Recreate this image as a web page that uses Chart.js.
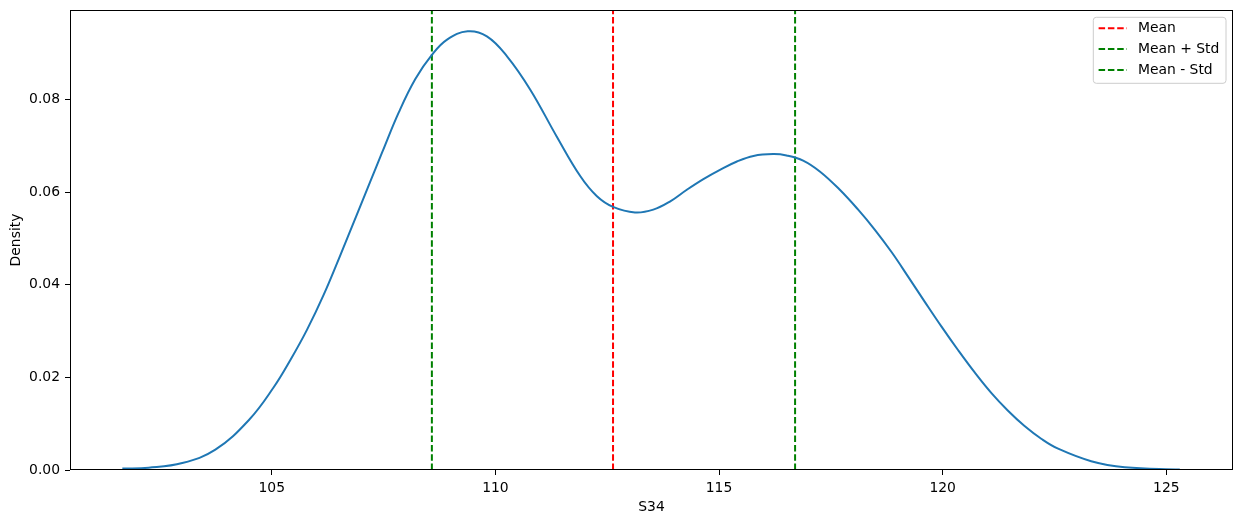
<!DOCTYPE html>
<html lang="en">

<head>
    <meta charset="UTF-8">
    <title>S34 density</title>
    <style>
        body { margin: 0; background: #fff; }
        #wrap { width: 1242px; height: 525px; }
    </style>
</head>

<body>
    <div id="wrap">
        <canvas id="myChart"></canvas>
    </div>

    <script src="https://cdn.jsdelivr.net/npm/chart.js"></script>
    <script>
        // kde curve
        const kdeX = [101.66, 102.25, 103.00, 103.74, 104.49, 105.04, 105.42, 105.79, 106.16, 106.53,
            106.91, 107.20, 107.47, 107.84, 108.21, 108.58, 108.92, 109.38, 109.81, 110.26,
            110.78, 111.37, 111.90, 112.27, 112.63, 113.12, 113.53, 113.91, 114.28, 114.65,
            115.02, 115.40, 115.77, 116.21, 116.51, 116.88, 117.26, 117.70, 118.11, 118.48,
            118.86, 119.23, 119.60, 119.97, 120.35, 120.72, 121.09, 121.46, 121.83, 122.21,
            122.58, 123.32, 124.07, 125.30];
        const kdeDensity = [0.0003, 0.0005, 0.0015, 0.0044, 0.0108, 0.0178, 0.0238, 0.0303, 0.0378, 0.0463,
            0.0553, 0.0622, 0.0686, 0.0772, 0.0844, 0.0896, 0.0929, 0.0947, 0.0936, 0.0893,
            0.0821, 0.0720, 0.0634, 0.0591, 0.0568, 0.0556, 0.0562, 0.0580, 0.0605, 0.0628,
            0.0648, 0.0666, 0.0678, 0.0682, 0.0679, 0.0668, 0.0644, 0.0605, 0.0562, 0.0519,
            0.0470, 0.0417, 0.0363, 0.0310, 0.0258, 0.0210, 0.0166, 0.0128, 0.0095, 0.0067,
            0.0046, 0.0019, 0.0006, 0.0001];

        const markerLabels = ['Mean', 'Mean + Std', 'Mean - Std'];
        const markerValues = [112.63, 116.70, 108.58];
        const markerColors = ['#ff0000', '#008000', '#008000'];

        const xTicks = [105, 110, 115, 120, 125];
        const yTicks = [0, 0.02, 0.04, 0.06, 0.08];
        const xRange = [100.49, 126.49];
        const yRange = [0, 0.0993];

        const FONT = { family: 'DejaVu Sans', size: 13.9 };
        const DASH = [6.5, 2.8];

        var datasets = [{
            label: 'kde',
            data: kdeX.map(function (x, i) { return { x: x, y: kdeDensity[i] }; }),
            borderColor: '#1f77b4',
            borderWidth: 2,
            pointRadius: 0,
            tension: 0.4,
            fill: false
        }];
        markerLabels.forEach(function (lab, i) {
            datasets.push({
                label: lab,
                data: [{ x: markerValues[i], y: yRange[0] }, { x: markerValues[i], y: yRange[1] }],
                borderColor: markerColors[i],
                borderWidth: 2,
                borderDash: DASH,
                pointRadius: 0,
                fill: false
            });
        });

        // matplotlib style box around the plot + legend in the upper right
        const framePlugin = {
            id: 'frame',
            afterDatasetsDraw: function (chart) {
                const ctx = chart.ctx;
                const a = chart.chartArea;
                ctx.save();
                ctx.strokeStyle = '#000';
                ctx.lineWidth = 1;
                ctx.strokeRect(Math.round(a.left) + 0.5, Math.round(a.top) + 0.5,
                    Math.round(a.right - a.left) - 1, Math.round(a.bottom - a.top) - 1);

                // legend
                const items = chart.data.datasets.slice(1);
                ctx.font = FONT.size + 'px ' + FONT.family;
                let tw = 0;
                items.forEach(function (d) { tw = Math.max(tw, ctx.measureText(d.label).width); });
                const rowH = 20.8;
                const w = 5.3 + 28.3 + 11 + tw + 6.7;
                const h = 66;
                const x0 = a.right - 7 - w;
                const y0 = a.top + 7.3;
                const r = 3;
                ctx.beginPath();
                ctx.moveTo(x0 + r, y0);
                ctx.arcTo(x0 + w, y0, x0 + w, y0 + h, r);
                ctx.arcTo(x0 + w, y0 + h, x0, y0 + h, r);
                ctx.arcTo(x0, y0 + h, x0, y0, r);
                ctx.arcTo(x0, y0, x0 + w, y0, r);
                ctx.closePath();
                ctx.fillStyle = 'rgba(255,255,255,0.8)';
                ctx.fill();
                ctx.strokeStyle = '#cccccc';
                ctx.lineWidth = 1;
                ctx.stroke();

                items.forEach(function (d, i) {
                    const cy = y0 + 11 + i * rowH;
                    ctx.beginPath();
                    ctx.setLineDash(DASH);
                    ctx.strokeStyle = d.borderColor;
                    ctx.lineWidth = 2;
                    ctx.moveTo(x0 + 5.3, cy);
                    ctx.lineTo(x0 + 5.3 + 28.3, cy);
                    ctx.stroke();
                    ctx.setLineDash([]);
                    ctx.fillStyle = '#000';
                    ctx.textAlign = 'left';
                    ctx.textBaseline = 'middle';
                    ctx.fillText(d.label, x0 + 5.3 + 28.3 + 11, cy);
                });
                ctx.restore();
            }
        };

        const ctx = document.getElementById('myChart');
        const myChart = new Chart(ctx, {
            type: 'line',
            data: { datasets: datasets },
            plugins: [framePlugin],
            options: {
                responsive: true,
                maintainAspectRatio: false,
                animation: false,
                layout: { padding: { top: 10, right: 9, left: 0, bottom: 0 } },
                plugins: {
                    legend: { display: false },
                    tooltip: { enabled: false }
                },
                scales: {
                    x: {
                        type: 'linear',
                        min: xRange[0],
                        max: xRange[1],
                        afterBuildTicks: function (s) { s.ticks = xTicks.map(function (v) { return { value: v }; }); },
                        afterFit: function (s) { s.height = 55; s.paddingLeft = 0; s.paddingRight = 0; },
                        grid: { drawOnChartArea: false, drawTicks: true, tickLength: 5, color: '#000' },
                        border: { display: false },
                        ticks: {
                            color: '#000', font: FONT, padding: 5, maxRotation: 0,
                            callback: function (v) { return String(v); }
                        },
                        title: { display: true, text: 'S34', color: '#000', font: FONT, padding: { top: 0, bottom: 9.6 } }
                    },
                    y: {
                        min: yRange[0],
                        max: yRange[1],
                        afterBuildTicks: function (s) { s.ticks = yTicks.map(function (v) { return { value: v }; }); },
                        afterFit: function (s) { s.width = 70; s.paddingTop = 0; s.paddingBottom = 0; },
                        grid: { drawOnChartArea: false, drawTicks: true, tickLength: 5, color: '#000' },
                        border: { display: false },
                        ticks: {
                            color: '#000', font: FONT, padding: 5,
                            callback: function (v) { return Number(v).toFixed(2); }
                        },
                        title: { display: true, text: 'Density', color: '#000', font: FONT, padding: { top: 7.6, bottom: 0 } }
                    }
                }
            }
        });
    </script>
</body>

</html>
